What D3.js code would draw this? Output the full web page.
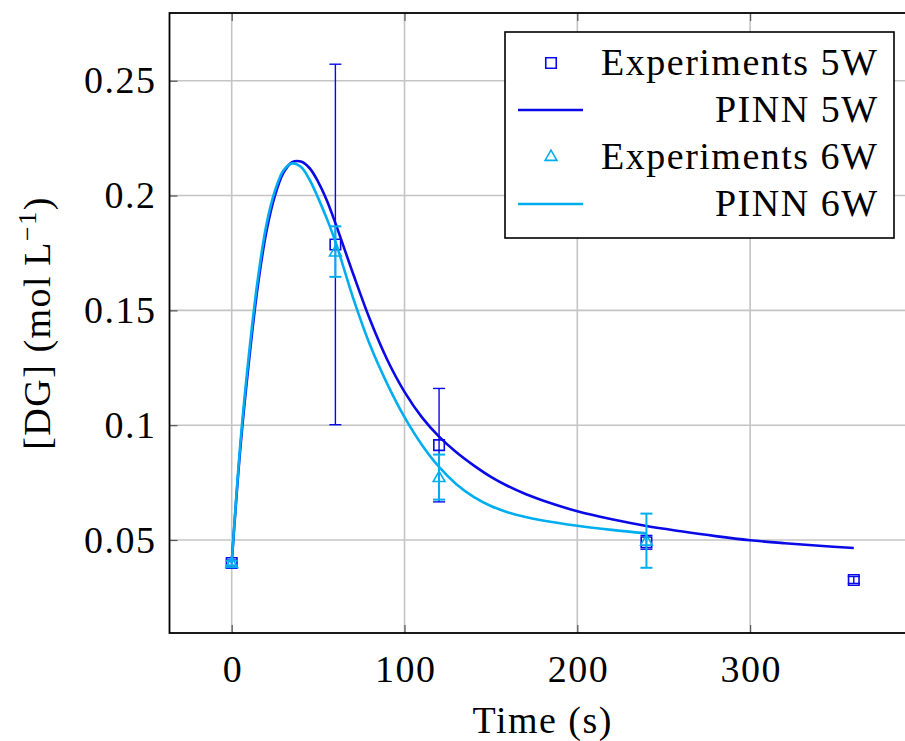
<!doctype html>
<html lang="en">
  <head>
    <meta charset="utf-8">
    <title>DG concentration vs time</title>
    <style>
      body { margin: 0; background: #fff; }
      text { font-family: "Liberation Serif", "DejaVu Serif", serif; fill: #000; letter-spacing: 1.5px; }
    </style>
  </head>
  <body>
    <script type="text/javascript" src="https://cdn.jsdelivr.net/npm/d3@7/dist/d3.min.js"></script>
    <script>
      // experiments, 5 W
      var exp5Time  = [0, 60, 120, 240, 360];
      var exp5Value = [0.0400, 0.1787, 0.0913, 0.0490, 0.0326];
      var exp5Err   = [0.0013, 0.0785, 0.0247, 0.0030, 0.0015];

      // experiments, 6 W
      var exp6Time  = [0, 60, 120, 240];
      var exp6Value = [0.0400, 0.1756, 0.0774, 0.0497];
      var exp6Err   = [0.0010, 0.0110, 0.0098, 0.0118];

      // PINN 5 W
      var pinn5Time  = [0, 5, 10, 15, 20, 25, 30, 35, 40, 45, 50, 55, 60, 70, 80, 90, 100, 110, 120, 130, 140, 150, 160, 170, 180, 200, 220, 240, 260, 280, 300, 320, 340, 360];
      var pinn5Value = [0.040, 0.090, 0.128, 0.160, 0.184, 0.200, 0.210, 0.2145, 0.2148, 0.212, 0.206, 0.198, 0.188, 0.1665, 0.146, 0.1285, 0.1145, 0.1035, 0.0950, 0.0882, 0.0825, 0.0775, 0.0734, 0.0700, 0.0672, 0.0625, 0.0590, 0.0561, 0.0538, 0.0517, 0.0499, 0.0486, 0.0475, 0.0465];

      // PINN 6 W
      var pinn6Time  = [0, 5, 10, 15, 20, 25, 30, 35, 40, 45, 50, 55, 60, 70, 80, 90, 100, 110, 120, 130, 140, 150, 160, 170, 180, 200, 220, 240];
      var pinn6Value = [0.040, 0.092, 0.131, 0.163, 0.187, 0.202, 0.211, 0.214, 0.2125, 0.207, 0.199, 0.190, 0.180, 0.156, 0.135, 0.118, 0.1035, 0.0915, 0.0818, 0.0743, 0.0688, 0.0648, 0.0620, 0.0600, 0.0585, 0.0562, 0.0544, 0.0529];

      var xTicks = [0, 100, 200, 300];
      var yTicks = [0.05, 0.1, 0.15, 0.2, 0.25];
      var legendLabels = ["Experiments 5W", "PINN 5W", "Experiments 6W", "PINN 6W"];

      var blue = "#0a0ae8", cyan = "#00aeef";
      var fontSize = 38;

      var W = 905, H = 741;
      var pLeft = 169.5, pRight = 916, pTop = 13, pBottom = 633;

      var svg = d3.select("body")
        .append("svg")
        .attr("width", W)
        .attr("height", H);

      var x = d3.scaleLinear().domain([-36, 396]).range([pLeft, pRight]);
      var y = d3.scaleLinear().domain([0.0095, 0.2795]).range([pBottom, pTop]);

      // grid
      svg.append("g")
        .selectAll("line")
        .data(xTicks)
        .enter()
        .append("line")
        .attr("x1", function(d){ return x(d); })
        .attr("x2", function(d){ return x(d); })
        .attr("y1", pTop).attr("y2", pBottom)
        .attr("stroke", "#c4c4c4").attr("stroke-width", 1.6);

      svg.append("g")
        .selectAll("line")
        .data(yTicks)
        .enter()
        .append("line")
        .attr("y1", function(d){ return y(d); })
        .attr("y2", function(d){ return y(d); })
        .attr("x1", pLeft).attr("x2", pRight)
        .attr("stroke", "#c4c4c4").attr("stroke-width", 1.6);

      // axes (ticks point inward, labels outside)
      var xAxis = svg.append("g")
        .attr("transform", "translate(0," + pBottom + ")")
        .call(d3.axisBottom(x).tickValues(xTicks).tickSizeInner(-8).tickSizeOuter(0).tickPadding(22)
          .tickFormat(d3.format("d")));
      var yAxis = svg.append("g")
        .attr("transform", "translate(" + pLeft + ",0)")
        .call(d3.axisLeft(y).tickValues(yTicks).tickSizeInner(-8).tickSizeOuter(0).tickPadding(13)
          .tickFormat(function(d){ return String(+d.toFixed(2)); }));

      var xTop = svg.append("g")
        .attr("transform", "translate(0," + pTop + ")")
        .call(d3.axisTop(x).tickValues(xTicks).tickSizeInner(-8).tickSizeOuter(0).tickFormat(""));

      [xAxis, yAxis, xTop].forEach(function(a){
        a.select(".domain").remove();
        a.selectAll("text").attr("font-size", fontSize).attr("font-family", null);
      });
      xAxis.selectAll("text").attr("dx", "0.75");
      svg.selectAll(".tick line").attr("stroke", "#555").attr("stroke-width", 1.2);

      // frame
      svg.append("rect")
        .attr("x", pLeft).attr("y", pTop)
        .attr("width", pRight - pLeft).attr("height", pBottom - pTop)
        .attr("fill", "none").attr("stroke", "#000").attr("stroke-width", 1.8);

      var line = d3.line()
        .x(function(d){ return x(d[0]); })
        .y(function(d){ return y(d[1]); })
        .curve(d3.curveCatmullRom.alpha(0.5));

      function errorBars(times, values, errs, color, width) {
        var g = svg.append("g").attr("stroke", color).attr("stroke-width", width);
        times.forEach(function(t, i){
          var lo = y(values[i] - errs[i]), hi = y(values[i] + errs[i]), cx = x(t);
          g.append("line").attr("x1", cx).attr("x2", cx).attr("y1", lo).attr("y2", hi);
          g.append("line").attr("x1", cx - 6).attr("x2", cx + 6).attr("y1", lo).attr("y2", lo);
          g.append("line").attr("x1", cx - 6).attr("x2", cx + 6).attr("y1", hi).attr("y2", hi);
        });
      }

      var squareSym = d3.symbol().type(d3.symbolSquare).size(110);
      var triSym = d3.symbol().type(d3.symbolTriangle).size(60);

      // Experiments 5W
      errorBars(exp5Time, exp5Value, exp5Err, blue, 1.4);
      svg.append("g")
        .selectAll("path")
        .data(exp5Time)
        .enter()
        .append("path")
        .attr("d", squareSym)
        .attr("transform", function(d, i){ return "translate(" + x(d) + "," + y(exp5Value[i]) + ")"; })
        .attr("fill", "none").attr("stroke", blue).attr("stroke-width", 1.6);

      // PINN 5W
      svg.append("path")
        .datum(d3.zip(pinn5Time, pinn5Value))
        .attr("d", line)
        .attr("fill", "none").attr("stroke", blue).attr("stroke-width", 2.6);

      // Experiments 6W
      errorBars(exp6Time, exp6Value, exp6Err, cyan, 2);
      svg.append("g")
        .selectAll("path")
        .data(exp6Time)
        .enter()
        .append("path")
        .attr("d", triSym)
        .attr("transform", function(d, i){ return "translate(" + x(d) + "," + (y(exp6Value[i]) + 1) + ")"; })
        .attr("fill", "none").attr("stroke", cyan).attr("stroke-width", 1.6);

      // PINN 6W
      svg.append("path")
        .datum(d3.zip(pinn6Time, pinn6Value))
        .attr("d", line)
        .attr("fill", "none").attr("stroke", cyan).attr("stroke-width", 2.6);

      // legend
      var legend = svg.append("g");
      legend.append("rect")
        .attr("x", 505).attr("y", 32).attr("width", 389).attr("height", 206)
        .attr("fill", "#fff").attr("stroke", "#000").attr("stroke-width", 1.6);

      legendLabels.forEach(function(label, i){
        var cy = 62 + i * 47;
        legend.append("text")
          .attr("x", 878.5).attr("y", cy + 12.5)
          .attr("text-anchor", "end")
          .attr("font-size", fontSize)
          .text(label);
        var color = i < 2 ? blue : cyan;
        if (i === 0) {
          legend.append("path").attr("d", squareSym).attr("transform", "translate(551," + (cy + 1) + ")")
            .attr("fill", "none").attr("stroke", color).attr("stroke-width", 1.6);
        } else if (i === 2) {
          legend.append("path").attr("d", triSym).attr("transform", "translate(551," + (cy + 1) + ")")
            .attr("fill", "none").attr("stroke", color).attr("stroke-width", 1.6);
        } else {
          legend.append("line").attr("x1", 518).attr("x2", 583).attr("y1", cy + 1).attr("y2", cy + 1)
            .attr("stroke", color).attr("stroke-width", 2.6);
        }
      });

      // axis titles
      svg.append("text")
        .attr("x", (pLeft + pRight) / 2).attr("y", 733)
        .attr("text-anchor", "middle")
        .attr("font-size", fontSize)
        .text("Time (s)");

      var yl = svg.append("text")
        .attr("transform", "translate(50," + ((pTop + pBottom) / 2) + ") rotate(-90)")
        .attr("text-anchor", "middle")
        .attr("font-size", fontSize);
      yl.append("tspan").text("[DG] (mol\u2009L");
      yl.append("tspan").attr("font-size", 26).attr("dy", -14).text("\u22121");
      yl.append("tspan").attr("dy", 14).text(")");
    </script>
  </body>
</html>
